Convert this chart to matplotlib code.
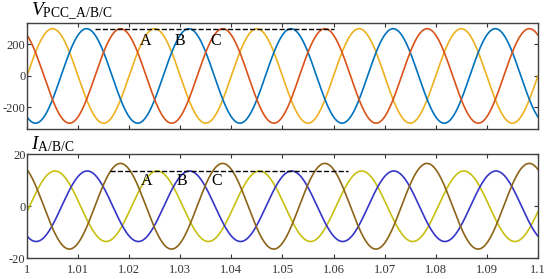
import numpy as np
import matplotlib
matplotlib.use("Agg")
import matplotlib.pyplot as plt
from matplotlib.ticker import FuncFormatter

plt.rcParams['font.family'] = 'Liberation Serif'
plt.rcParams['mathtext.fontset'] = 'custom'
plt.rcParams['mathtext.rm'] = 'Liberation Serif'
plt.rcParams['mathtext.it'] = 'Liberation Serif:italic'
plt.rcParams['axes.unicode_minus'] = False

# waveform parameters (50 Hz, three phases)
freq = 50.0
v_amp = [300, 300, 300]
v_peak = [1.005, 1.01167, 1.01833]
v_colors = ['#EDB120', '#0072BD', '#D95319']

i_amp = [13.5, 13.5, 16.4]
i_peak = [1.0055, 1.0118, 1.0183]
i_colors = ['#C8C010', '#3535C8', '#8C6418']

x_ticks = [1, 1.01, 1.02, 1.03, 1.04, 1.05, 1.06, 1.07, 1.08, 1.09, 1.1]
v_ticks = [-200, 0, 200]
i_ticks = [-20, 0, 20]
labels = ['A', 'B', 'C']
v_label_x = [1.0233, 1.0300, 1.0369]
i_label_x = [1.0235, 1.0303, 1.0371]

t = np.linspace(1, 1.1, 3000)

fig = plt.figure(figsize=(5.5, 2.79), dpi=100)
ax1 = fig.add_axes([0.049, 0.5376, 0.929, 0.381])
ax2 = fig.add_axes([0.049, 0.0735, 0.929, 0.3745])

for a, p, c in zip(v_amp, v_peak, v_colors):
    ax1.plot(t, a * np.cos(2 * np.pi * freq * (t - p)), color=c, lw=1.2)
for a, p, c in zip(i_amp, i_peak, i_colors):
    ax2.plot(t, a * np.cos(2 * np.pi * freq * (t - p)), color=c, lw=1.2)

ax1.plot([1.0133, 1.06], [300, 300], 'k--', lw=1)
ax2.plot([1.0163, 1.0629], [13.5, 13.5], 'k--', lw=1)
for lab, x in zip(labels, v_label_x):
    ax1.text(x, 222, lab, fontsize=11.5, ha='center', va='center')
for lab, x in zip(labels, i_label_x):
    ax2.text(x, 9.6, lab, fontsize=11.5, ha='center', va='center')

for ax in (ax1, ax2):
    ax.set_xlim(1, 1.1)
    ax.set_xticks(x_ticks)
    ax.tick_params(direction='in', top=True, right=True, length=3,
                   width=0.8, labelsize=9, pad=2, colors='#333333')
    for s in ax.spines.values():
        s.set_color('#404040')
        s.set_linewidth(1)

ax1.set_ylim(-337, 338)
ax1.set_yticks(v_ticks)
ax1.set_xticklabels([])
ax2.set_ylim(-20, 20)
ax2.set_yticks(i_ticks)
ax2.xaxis.set_major_formatter(FuncFormatter(lambda v, _: '%g' % v))
ax2.tick_params(axis='x', pad=4)
ax1.tick_params(axis='y', pad=1)
ax2.tick_params(axis='y', pad=1)

fig.text(0.057, 0.94, r'$V_{\mathrm{PCC\_A/B/C}}$', fontsize=14, va='baseline')
fig.text(0.057, 0.465, r'$I_{\mathrm{A/B/C}}$', fontsize=14, va='baseline')

fig.savefig('out.png', dpi=100)
